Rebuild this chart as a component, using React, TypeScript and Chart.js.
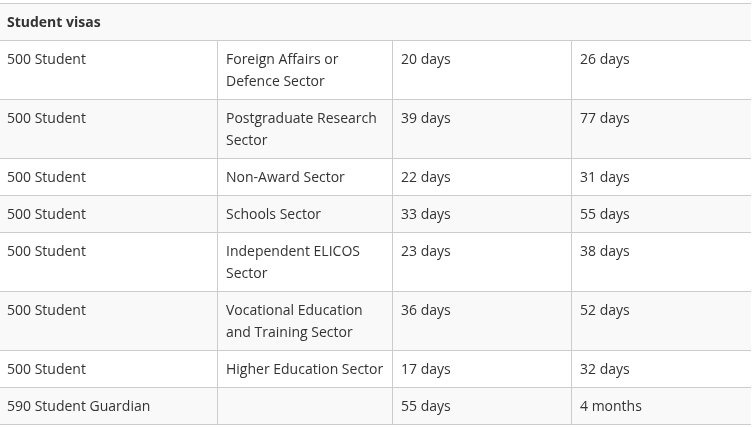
import { useEffect, useRef } from "react";
import { Chart, registerables } from "chart.js";

Chart.register(...registerables);

// ---- data ----
const tableTitle = "Student visas";
const visaSubclasses = [
  "500 Student",
  "500 Student",
  "500 Student",
  "500 Student",
  "500 Student",
  "500 Student",
  "500 Student",
  "590 Student Guardian",
];
const sectors = [
  "Foreign Affairs or Defence Sector",
  "Postgraduate Research Sector",
  "Non-Award Sector",
  "Schools Sector",
  "Independent ELICOS Sector",
  "Vocational Education and Training Sector",
  "Higher Education Sector",
  "",
];
const processing75 = ["20 days", "39 days", "22 days", "33 days", "23 days", "36 days", "17 days", "55 days"];
const processing90 = ["26 days", "77 days", "31 days", "55 days", "38 days", "52 days", "32 days", "4 months"];

// ---- layout / style constants ----
const W = 753;
const H = 427;
const COL_EDGES = [-2, 217, 392, 571, 751];
const TABLE_TOP = 3;
const BASE_ROW = 37;
const LINE_H = 22;
const PAD_X = 9;
const BASELINE = 24;
const FONT = "14px 'Open Sans'";
const FONT_BOLD = "bold 14px 'Open Sans'";
const TEXT = "#333333";
const BORDER = "#cccccc";
const STRIPE = "#f9f9f9";

function wrap(ctx: CanvasRenderingContext2D, text: string, maxW: number): string[] {
  if (!text) return [""];
  const words = text.split(" ");
  const lines: string[] = [];
  let cur = "";
  for (const w of words) {
    const t = cur ? cur + " " + w : w;
    if (cur && ctx.measureText(t).width > maxW) {
      lines.push(cur);
      cur = w;
    } else cur = t;
  }
  lines.push(cur);
  return lines;
}

const tablePlugin = {
  id: "tablePlugin",
  afterDraw(chart: any) {
    const ctx: CanvasRenderingContext2D = chart.ctx;
    const xs = chart.scales.x;
    const ys = chart.scales.y;
    const px = (v: number) => Math.round(xs.getPixelForValue(v));
    const py = (v: number) => Math.round(ys.getPixelForValue(v));
    const left = px(COL_EDGES[0]);
    const right = px(COL_EDGES[COL_EDGES.length - 1]);

    ctx.save();
    ctx.font = FONT;
    const columns = [visaSubclasses, sectors, processing75, processing90];
    const cellLines = visaSubclasses.map((_, r) =>
      columns.map((col, c) => {
        const maxW = COL_EDGES[c + 1] - COL_EDGES[c] - 1 - 16;
        return wrap(ctx, col[r], maxW);
      })
    );

    // row tops
    const tops: number[] = [TABLE_TOP];
    let y = TABLE_TOP + BASE_ROW;
    tops.push(y);
    cellLines.forEach((cells) => {
      const n = Math.max(...cells.map((l) => l.length));
      y += BASE_ROW + LINE_H * (n - 1);
      tops.push(y);
    });

    // backgrounds
    ctx.fillStyle = STRIPE;
    const hy0 = py(tops[0]);
    const hy1 = py(tops[1]);
    ctx.fillRect(left, hy0 + 1, right - left, hy1 - hy0 - 1);
    cellLines.forEach((_, r) => {
      if (r % 2 === 1) {
        const a = py(tops[r + 1]);
        const b = py(tops[r + 2]);
        ctx.fillRect(left, a + 1, right - left, b - a - 1);
      }
    });

    // borders
    ctx.fillStyle = BORDER;
    tops.forEach((t) => ctx.fillRect(left, py(t), right - left, 1));
    for (let c = 1; c < COL_EDGES.length - 1; c++) {
      const x = px(COL_EDGES[c]);
      const a = py(tops[1]);
      const b = py(tops[tops.length - 1]);
      ctx.fillRect(x, a, 1, b - a);
    }

    // text
    ctx.fillStyle = TEXT;
    ctx.textBaseline = "alphabetic";
    ctx.textAlign = "left";
    ctx.font = FONT_BOLD;
    ctx.fillText(tableTitle, px(COL_EDGES[0] + PAD_X), py(tops[0] + BASELINE));
    ctx.font = FONT;
    cellLines.forEach((cells, r) => {
      cells.forEach((lines, c) => {
        lines.forEach((ln, i) => {
          ctx.fillText(ln, px(COL_EDGES[c] + PAD_X), py(tops[r + 1] + BASELINE + i * LINE_H));
        });
      });
    });
    ctx.restore();
  },
};

export default function App() {
  const ref = useRef<HTMLCanvasElement | null>(null);
  useEffect(() => {
    document.body.style.margin = "0";
    document.body.style.background = "#ffffff";
    if (!ref.current) return;
    const chart = new Chart(ref.current, {
      type: "scatter",
      data: { datasets: [{ data: [] }] },
      options: {
        animation: false,
        responsive: false,
        maintainAspectRatio: false,
        layout: { padding: 0 },
        plugins: { legend: { display: false }, tooltip: { enabled: false } },
        scales: {
          x: { type: "linear", min: 0, max: W, display: false },
          y: { type: "linear", min: 0, max: H, reverse: true, display: false },
        },
      },
      plugins: [tablePlugin],
    });
    return () => chart.destroy();
  }, []);
  return (
    <div style={{ position: "fixed", left: 0, top: 0, width: W, height: H, background: "#fff" }}>
      <canvas ref={ref} width={W} height={H} style={{ width: W, height: H, display: "block" }} />
    </div>
  );
}
